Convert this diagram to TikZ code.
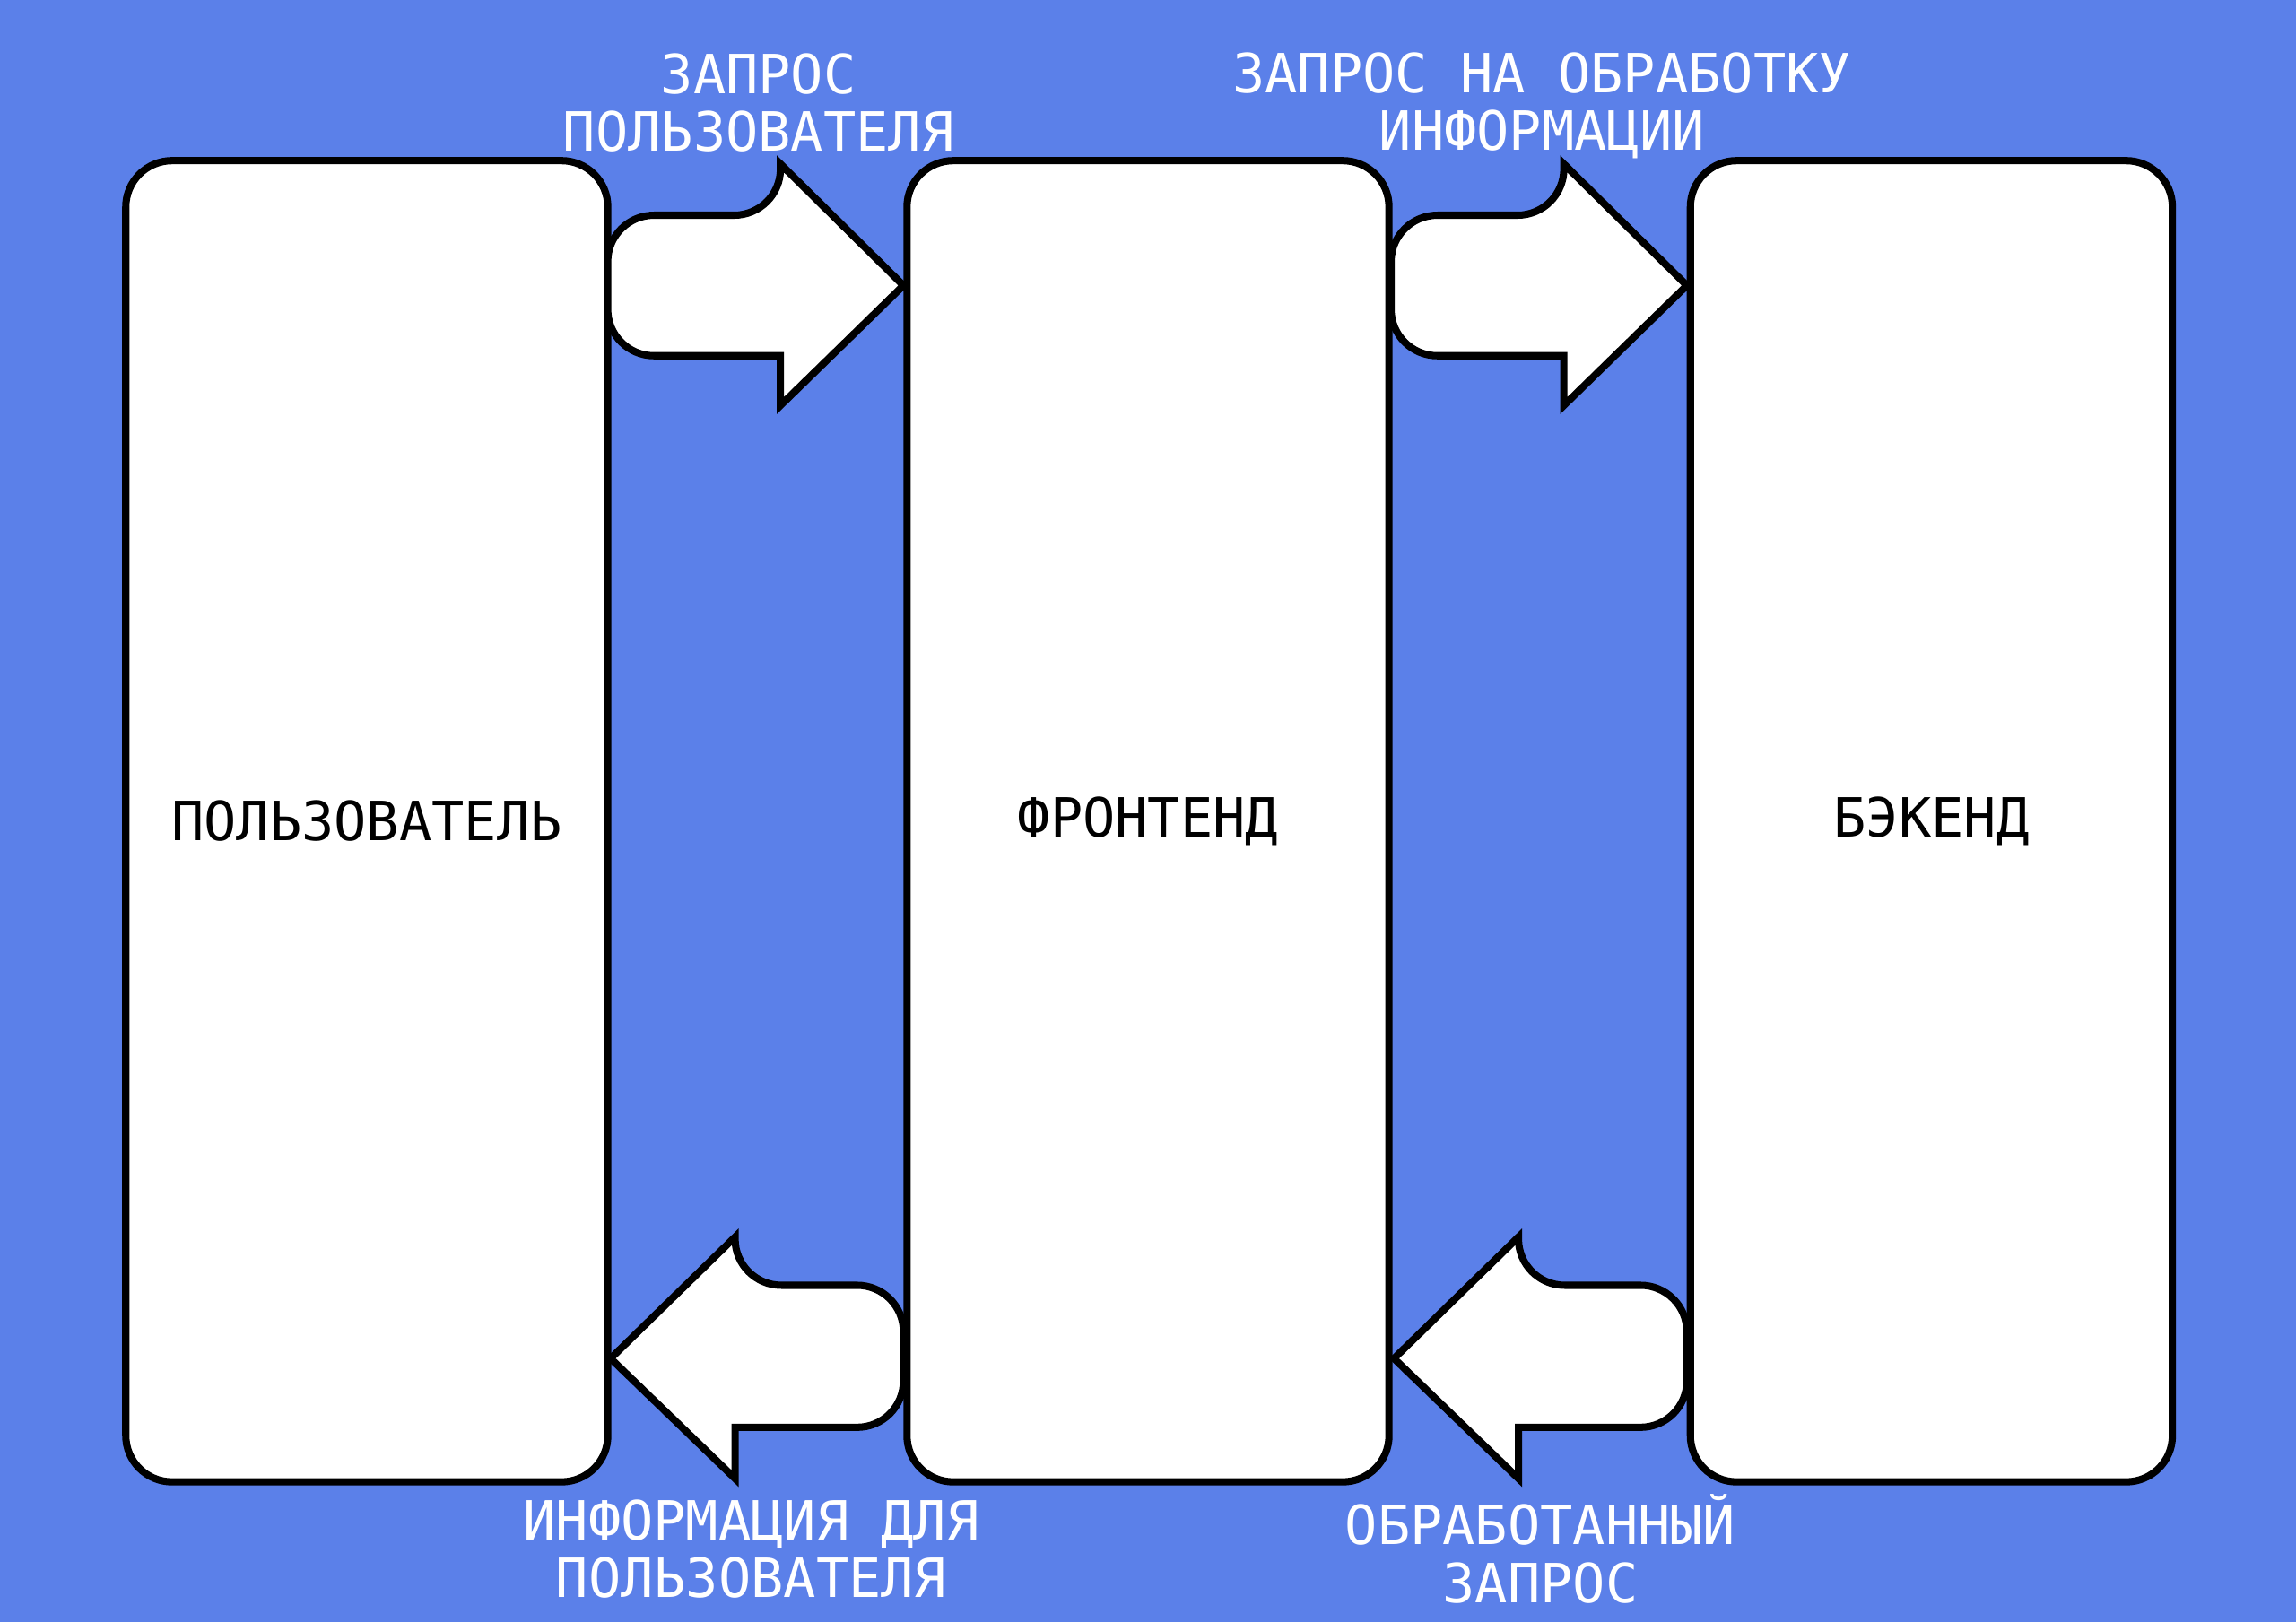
\documentclass[tikz,border=0pt]{standalone}
\usepackage{fontspec}
\setmonofont{DejaVu Sans Mono}
\definecolor{bgblue}{HTML}{5B80E9}
\begin{document}
\begin{tikzpicture}[x=0.01cm,y=-0.01cm,
    block/.style={rectangle,draw,line width=1.4pt,fill=white,rounded corners=9pt,minimum width=3.29cm,minimum height=9.02cm,inner sep=0pt,font=\ttfamily\fontsize{10.5}{11.5}\selectfont},
    flow/.style={draw,line width=1.4pt,fill=white,line join=miter},
    flowlabel/.style={text=white,align=center,font=\ttfamily\fontsize{10.5}{11.2}\selectfont}
    ]

    \fill[bgblue] (0,0) rectangle (1568,1108);

    \node (user) [block] at (250.5,561) {ПОЛЬЗОВАТЕЛЬ};
    \node (front) [block] at (784,561) {ФРОНТЕНД};
    \node (back) [block] at (1319,561) {БЭКЕНД};

    % arrows to the right
    \foreach \x in {415,950}
      \draw[flow] (\x+118,147) -- (\x+118,112) -- (\x+202,195) -- (\x+118,277) -- (\x+118,243)
        [rounded corners=9pt] -- (\x,243) -- (\x,147) -- cycle;

    % arrows to the left
    \foreach \x in {417,952}
      \draw[flow] (\x+85,878) -- (\x+85,845) -- (\x,928) -- (\x+85,1010) -- (\x+85,975)
        [rounded corners=9pt] -- (\x+200,975) -- (\x+200,878) -- cycle;

    \node [flowlabel] at (518,70) {ЗАПРОС\\ПОЛЬЗОВАТЕЛЯ};
    \node [flowlabel] at (1053,72) {ЗАПРОС НА ОБРАБОТКУ\\ИНФОРМАЦИИ};
    \node [flowlabel] at (513,1058) {ИНФОРМАЦИЯ ДЛЯ\\ПОЛЬЗОВАТЕЛЯ};
    \node [flowlabel] at (1052,1058) {ОБРАБОТАННЫЙ\\ЗАПРОС};

  \end{tikzpicture}
\end{document}
